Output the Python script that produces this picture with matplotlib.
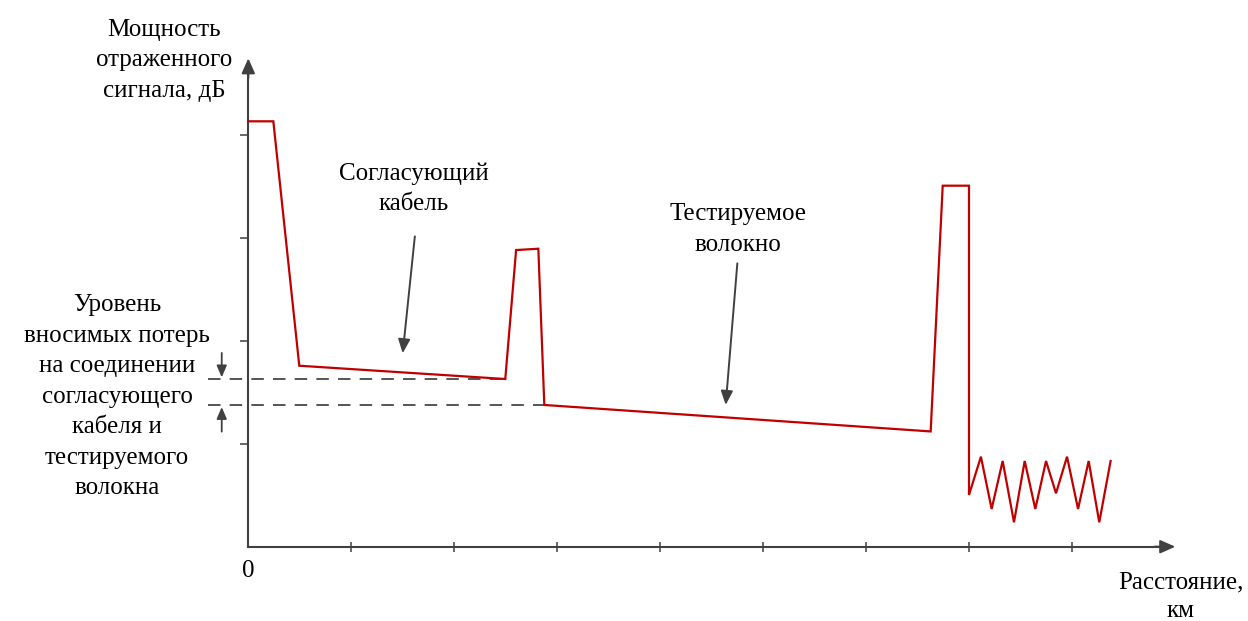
import matplotlib
matplotlib.use("Agg")
import matplotlib.pyplot as plt

plt.rcParams["font.family"] = ["Liberation Serif", "DejaVu Serif"]
plt.rcParams["lines.scale_dashes"] = False

# Reflectogram trace (distance in tick units, reflected power in tick units)
distance = [0.0, 0.243, 0.495, 2.495, 2.600, 2.816, 2.874, 6.625, 6.742, 6.997, 6.997,
            7.113, 7.217, 7.324, 7.434, 7.538, 7.641, 7.745, 7.842, 7.949, 8.056,
            8.159, 8.262, 8.372]
power = [4.13, 4.13, 1.757, 1.628, 2.880, 2.893, 1.376, 1.119, 3.505, 3.505, 0.502,
         0.874, 0.366, 0.832, 0.237, 0.832, 0.366, 0.832, 0.518, 0.874, 0.366,
         0.832, 0.237, 0.832]

x_ticks = [1, 2, 3, 4, 5, 6, 7, 8]
y_ticks = [1, 2, 3, 4]

# Insertion-loss levels at the launch-cable / fibre connection
loss_upper = 1.624
loss_lower = 1.376
loss_upper_end = 2.495
loss_lower_end = 2.874

title_y = "Мощность\nотраженного\nсигнала, дБ"
title_x = "Расстояние,\nкм"
label_cable = "Согласующий\nкабель"
label_fibre = "Тестируемое\nволокно"
label_loss = ("Уровень\nвносимых потерь\nна соединении\nсогласующего\n"
              "кабеля и\nтестируемого\nволокна")

AX = "#404040"
RED = "#C00000"
DASH = "#555555"
FS = 18
LS = 1.5

fig = plt.figure(figsize=(12.48, 6.21), dpi=100)
ax = fig.add_axes([0, 0, 1, 1])
ax.set_xlim(-2.4107, 9.706)
ax.set_ylim(-0.7214, 5.3078)

# Axes as spines through the origin
for s in ("top", "right"):
    ax.spines[s].set_visible(False)
ax.spines["left"].set_position(("data", 0))
ax.spines["bottom"].set_position(("data", 0))
ax.spines["left"].set_bounds(0, 4.65)
ax.spines["bottom"].set_bounds(0, 8.92)
for s in ("left", "bottom"):
    ax.spines[s].set_color(AX)
    ax.spines[s].set_linewidth(1.5)
    ax.spines[s].set_zorder(3)
ax.set_xticks(x_ticks)
ax.set_yticks(y_ticks)
ax.set_xticklabels([])
ax.set_yticklabels([])
ax.tick_params(axis="x", direction="inout", length=7.5, width=1.1, color=AX)
ax.tick_params(axis="y", direction="out", length=6, width=1.1, color=AX)

head = dict(arrowstyle="-|>,head_length=0.45,head_width=0.2", mutation_scale=20,
            color=AX, lw=1.5, shrinkA=0, shrinkB=0)
ax.annotate("", xy=(9.0, 0), xytext=(8.8, 0), arrowprops=head)
ax.annotate("", xy=(0, 4.742), xytext=(0, 4.55), arrowprops=head)

# Trace
ax.plot(distance, power, color=RED, lw=1.6, solid_joinstyle="miter", zorder=4)

# Loss level guides
ax.plot([-0.388, loss_upper_end], [loss_upper, loss_upper], color=DASH, lw=1.4,
        linestyle=(0, (9.0, 6.6)), zorder=2)
ax.plot([-0.388, loss_lower_end], [loss_lower, loss_lower], color=DASH, lw=1.4,
        linestyle=(0, (9.0, 6.6)), zorder=2)

small = dict(arrowstyle="-|>,head_length=0.35,head_width=0.15", mutation_scale=20,
             color=AX, lw=1.3, shrinkA=0, shrinkB=0)
ax.annotate("", xy=(-0.258, loss_upper + 0.02), xytext=(-0.258, 1.881), arrowprops=small)
ax.annotate("", xy=(-0.258, loss_lower - 0.02), xytext=(-0.258, 1.117), arrowprops=small)

pointer = dict(arrowstyle="-|>,head_length=0.42,head_width=0.18", mutation_scale=20,
               color=AX, lw=1.4, shrinkA=0, shrinkB=0)
ax.annotate("", xy=(1.499, 1.878), xytext=(1.617, 3.013), arrowprops=pointer)
ax.annotate("", xy=(4.635, 1.376), xytext=(4.748, 2.751), arrowprops=pointer)

# Labels (baseline of the last line)
ax.text(-0.818, 4.369, title_y, ha="center", va="baseline", fontsize=FS,
        linespacing=LS)
ax.text(1.609, 3.268, label_cable, ha="center", va="baseline", fontsize=FS,
        linespacing=LS)
ax.text(4.754, 2.874, label_fibre, ha="center", va="baseline", fontsize=FS,
        linespacing=LS)
ax.text(-1.275, 0.511, label_loss, ha="center", va="baseline", fontsize=FS,
        linespacing=LS)
ax.text(0, -0.291, "0", ha="center", va="baseline", fontsize=FS)
ax.text(9.055, -0.685, title_x, ha="center", va="baseline", fontsize=FS,
        linespacing=1.4)

fig.savefig("out.png", dpi=100)
